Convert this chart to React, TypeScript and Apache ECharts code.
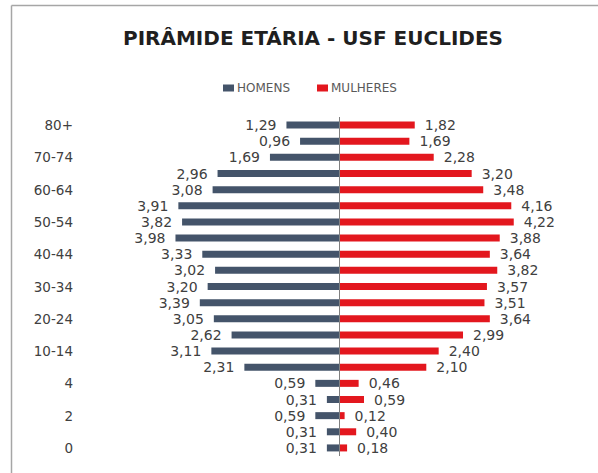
import React, { useEffect, useRef } from "react";
import * as echarts from "echarts";

const categories = ["0", "1", "2", "3", "4", "5-9", "10-14", "15-19", "20-24", "25-29", "30-34", "35-39", "40-44", "45-49", "50-54", "55-59", "60-64", "65-69", "70-74", "75-79", "80+"];
const homens = [0.31, 0.31, 0.59, 0.31, 0.59, 2.31, 3.11, 2.62, 3.05, 3.39, 3.2, 3.02, 3.33, 3.98, 3.82, 3.91, 3.08, 2.96, 1.69, 0.96, 1.29];
const mulheres = [0.18, 0.4, 0.12, 0.59, 0.46, 2.1, 2.4, 2.99, 3.64, 3.51, 3.57, 3.82, 3.64, 3.88, 4.22, 4.16, 3.48, 3.2, 2.28, 1.69, 1.82];

const FONT = "'DejaVu Sans', 'Open Sans', sans-serif";
const fmt = (v: number) => Math.abs(v).toFixed(2).replace(".", ",");

export default function App() {
  const ref = useRef<HTMLDivElement>(null);
  useEffect(() => {
    if (!ref.current) return;
    const chart = echarts.init(ref.current, undefined, { renderer: "svg" });
    chart.setOption({
      animation: false,
      backgroundColor: "#ffffff",
      title: {
        text: "PIRÂMIDE ETÁRIA - USF EUCLIDES",
        left: 308,
        top: 23,
        textAlign: "center",
        textStyle: { fontFamily: FONT, fontWeight: "bold", fontSize: 20, color: "#1f1f1f" },
      },
      legend: {
        left: 218,
        top: 77,
        itemWidth: 11,
        itemHeight: 7,
        itemGap: 27,
        icon: "rect",
        textStyle: { fontFamily: FONT, fontSize: 12, color: "#595959", padding: [0, 0, 0, -2] },
        data: ["HOMENS", "MULHERES"],
      },
      graphic: [
        { type: "line", shape: { x1: 11.5, y1: 5.5, x2: 598, y2: 5.5 }, style: { stroke: "#a6a6a6", lineWidth: 1.5 } },
        { type: "line", shape: { x1: 11.5, y1: 5.5, x2: 11.5, y2: 473 }, style: { stroke: "#a6a6a6", lineWidth: 1.5 } },
      ],
      grid: { left: 81, right: 17, top: 117, bottom: 17 },
      xAxis: {
        type: "value",
        min: -6.27,
        max: 5.85,
        show: false,
      },
      yAxis: {
        type: "category",
        data: categories,
        axisLine: { show: false },
        axisTick: { show: false },
        axisLabel: {
          interval: 1,
          margin: 8,
          fontFamily: FONT,
          fontSize: 13.5,
          color: "#404040",
        },
      },
      series: [
        {
          name: "HOMENS",
          type: "bar",
          data: homens.map((v) => -v),
          barWidth: 7,
          barGap: "-100%",
          itemStyle: { color: "#44546A" },
          label: {
            show: true,
            position: "left",
            distance: 10,
            formatter: (p: any) => fmt(p.value),
            fontFamily: FONT,
            fontSize: 14,
            color: "#404040",
          },
          markLine: {
            silent: true,
            symbol: "none",
            label: { show: false },
            lineStyle: { color: "#808080", width: 1, type: "solid" },
            data: [{ xAxis: 0 }],
          },
        },
        {
          name: "MULHERES",
          type: "bar",
          data: mulheres,
          barWidth: 7,
          barGap: "-100%",
          itemStyle: { color: "#E3171E" },
          label: {
            show: true,
            position: "right",
            distance: 10,
            formatter: (p: any) => fmt(p.value),
            fontFamily: FONT,
            fontSize: 14,
            color: "#404040",
          },
        },
      ],
    });
    return () => chart.dispose();
  }, []);
  return <div ref={ref} style={{ position: "fixed", left: 0, top: 0, width: 598, height: 473 }} />;
}
